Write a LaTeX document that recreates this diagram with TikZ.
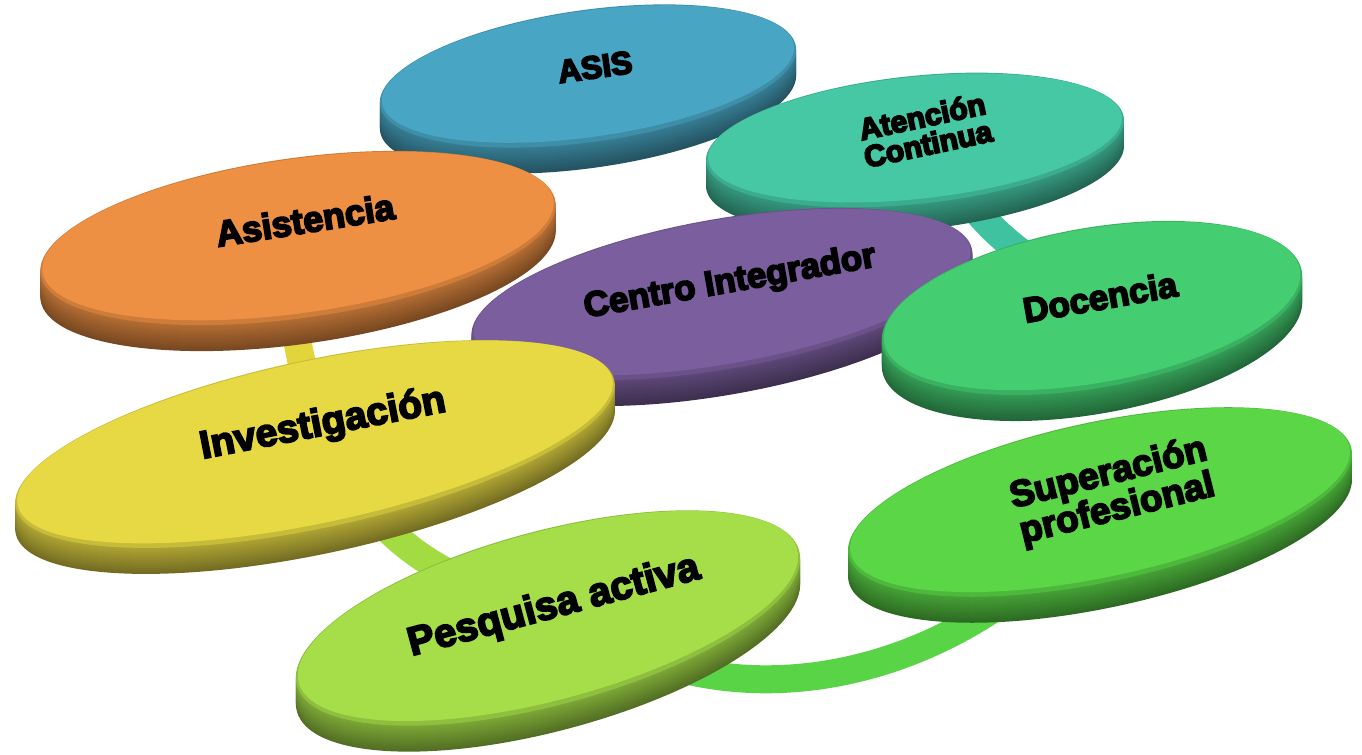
\documentclass[tikz,border=0pt]{standalone}
\usepackage{fontspec}
\newfontfamily\lblfont{Liberation Sans Bold}
\usetikzlibrary{backgrounds}

\definecolor{asisc}{HTML}{48A5C3}
\definecolor{atenc}{HTML}{46C8A5}
\definecolor{asistc}{HTML}{EE9043}
\definecolor{centroc}{HTML}{7B5E9E}
\definecolor{docc}{HTML}{44CD71}
\definecolor{invc}{HTML}{E7D944}
\definecolor{supc}{HTML}{5BD647}
\definecolor{pesqc}{HTML}{A5DE48}
\definecolor{ringyel}{HTML}{E2D43B}
\definecolor{ringlime}{HTML}{A2DB42}
\definecolor{ringgreen}{HTML}{59D446}
\definecolor{ringteal}{HTML}{3EC29F}

% flat disk: x, y, angle, x radius, y radius, colour
\newcommand{\drawdisk}[6]{%
  \foreach \k in {26,24,...,2}{%
    \pgfmathtruncatemacro\mix{76-\k}%
    \fill[#6!\mix!black,rotate around={#3:(#1,#2-\k)}] (#1,#2-\k) ellipse [x radius=#4,y radius=#5];
  }
  \fill[#6!86!black,rotate around={#3:(#1,#2)}] (#1,#2) ellipse [x radius=#4,y radius=#5];
  \fill[#6,rotate around={#3:(#1,#2+2)}] (#1,#2+2) ellipse [x radius=#4-2,y radius=#5-3];
}
% heavier lettering (fill and stroke)
\newcommand{\heavy}[1]{\special{pdf:literal direct 2 Tr 0.9 w}#1\special{pdf:literal direct 0 Tr}}

\begin{document}
\begin{tikzpicture}[x=0.5pt,y=0.5pt,
    lbl/.style={font=\lblfont\fontsize{#1}{#1}\selectfont,align=center,inner sep=0pt}]
\useasboundingbox (0,0) rectangle (1362,755);

\drawdisk{588}{679}{8}{210}{66}{asisc}
\node[lbl=16,rotate=8] (asis) at (595,688) {\heavy{ASIS}};

\drawdisk{915}{615}{6}{210}{64}{atenc}
\node[lbl=15,rotate=12,font=\lblfont\fontsize{15}{14}\selectfont] (aten) at (925,625) {\heavy{Atención\\Continua}};

\drawdisk{298}{517}{8}{260}{80}{asistc}
\node[lbl=18,rotate=9] (asist) at (305,535) {\heavy{Asistencia}};

\drawdisk{722}{461}{10}{254}{75}{centroc}
\node[lbl=17.5,rotate=10] (centro) at (730,472) {\heavy{Centro Integrador}};

\drawdisk{1092}{447}{10}{213}{80}{docc}
\node[lbl=17.5,rotate=10] (doc) at (1100,458) {\heavy{Docencia}};

\drawdisk{315}{311}{12}{306}{84}{invc}
\node[lbl=19.5,rotate=11] (inv) at (323,330) {\heavy{Investigación}};

\drawdisk{1100}{253}{12}{257}{80}{supc}
\node[lbl=18.5,rotate=14,font=\lblfont\fontsize{18.5}{17}\selectfont] (sup) at (1113,263) {\heavy{Superación\\profesional}};

\drawdisk{548}{137}{15}{260}{87}{pesqc}
\node[lbl=20,rotate=15] (pesq) at (554,148) {\heavy{Pesquisa activa}};

\begin{scope}[on background layer]
\path[every edge/.style={draw,line width=14pt}]
(asist.center) edge[bend right=18,draw=ringyel] (inv.center)
(inv.center) edge[out=-70,in=170,draw=ringlime] (pesq.center)
(pesq.center) edge[out=-38,in=-125,draw=ringgreen] (sup.center)
(aten.center) edge[bend right=20,draw=ringteal] (doc.center)
;
\end{scope}

\end{tikzpicture}
\end{document}
